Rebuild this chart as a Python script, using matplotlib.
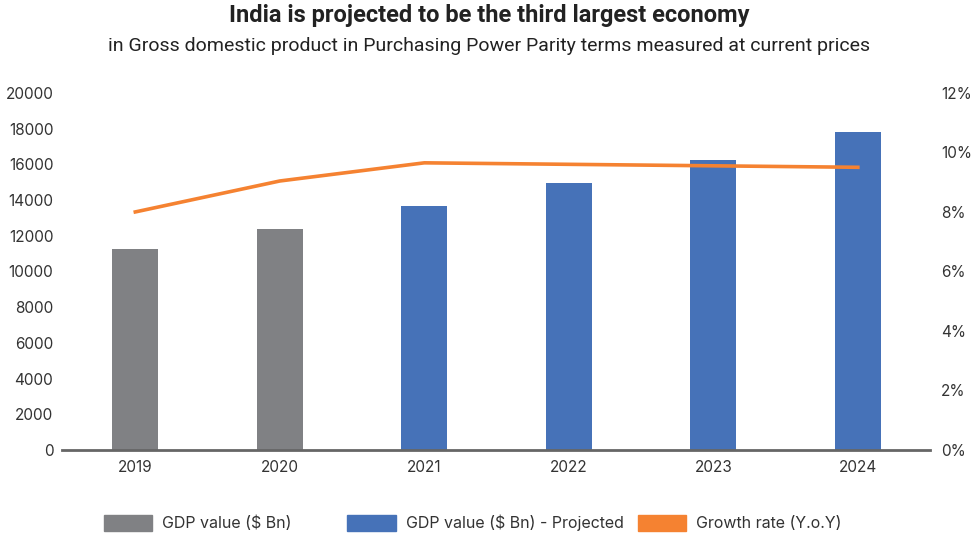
import numpy as np
import matplotlib
matplotlib.use("Agg")
from matplotlib import pyplot as plt
from matplotlib.patches import Patch

plt.rcParams['font.family'] = ['Inter', 'DejaVu Sans']

years = ['2019', '2020', '2021', '2022', '2023', '2024']
gdp = [11260, 12380, 13670, 14960, 16250, 17820]
projected = [False, False, True, True, True, True]
growth = [8.0, 9.04, 9.65, 9.6, 9.55, 9.5]

grey = '#808184'
blue = '#4672b8'
orange = '#f58231'

fig = plt.figure(figsize=(9.78, 5.37), dpi=100)
ax = fig.add_axes([0.063, 0.162, 0.888, 0.665])
x = np.arange(len(years))
cols = [blue if p else grey for p in projected]
ax.bar(x, gdp, width=0.32, color=cols, zorder=2)
ax.set_xlim(-0.51, 5.5)
ax.set_ylim(0, 20000)
ax.set_yticks(np.arange(0, 20001, 2000))
ax.set_xticks(x)
ax.set_xticklabels(years)
for s in ['top', 'right', 'left']:
    ax.spines[s].set_visible(False)
ax.spines['bottom'].set_color('#666666')
ax.spines['bottom'].set_linewidth(2)
ax.tick_params(axis='both', length=0, labelsize=11, colors='#333333')
ax.tick_params(axis='y', pad=6)
ax.tick_params(axis='x', pad=7)

ax2 = ax.twinx()
ax2.plot(x, growth, color=orange, lw=2.6, zorder=3)
ax2.set_ylim(0, 12)
ax2.set_yticks(np.arange(0, 13, 2))
ax2.set_yticklabels([f'{v}%' for v in range(0, 13, 2)])
for s in ['top', 'right', 'left', 'bottom']:
    ax2.spines[s].set_visible(False)
ax2.tick_params(axis='y', length=0, labelsize=11, colors='#333333', pad=8)

fig.text(0.5, 0.972, 'India is projected to be the third largest economy',
         ha='center', va='center', fontsize=17, fontweight='bold', color='#222222',
         family=['Roboto', 'DejaVu Sans'])
fig.text(0.5, 0.914, 'in Gross domestic product in Purchasing Power Parity terms measured at current prices',
         ha='center', va='center', fontsize=14, color='#222222',
         family=['Roboto', 'DejaVu Sans'])

items = [(grey, 'GDP value ($ Bn)', 0.106),
         (blue, 'GDP value ($ Bn) - Projected', 0.355),
         (orange, 'Growth rate (Y.o.Y)', 0.652)]
for c, lab, xpos in items:
    fig.legend(handles=[Patch(color=c)], labels=[lab], loc='center left',
               bbox_to_anchor=(xpos, 0.026), frameon=False, fontsize=11.5,
               handlelength=3.05, handleheight=1.13, handletextpad=0.62,
               borderaxespad=0, borderpad=0, labelcolor='#333333')

fig.savefig('out.png', dpi=100)
